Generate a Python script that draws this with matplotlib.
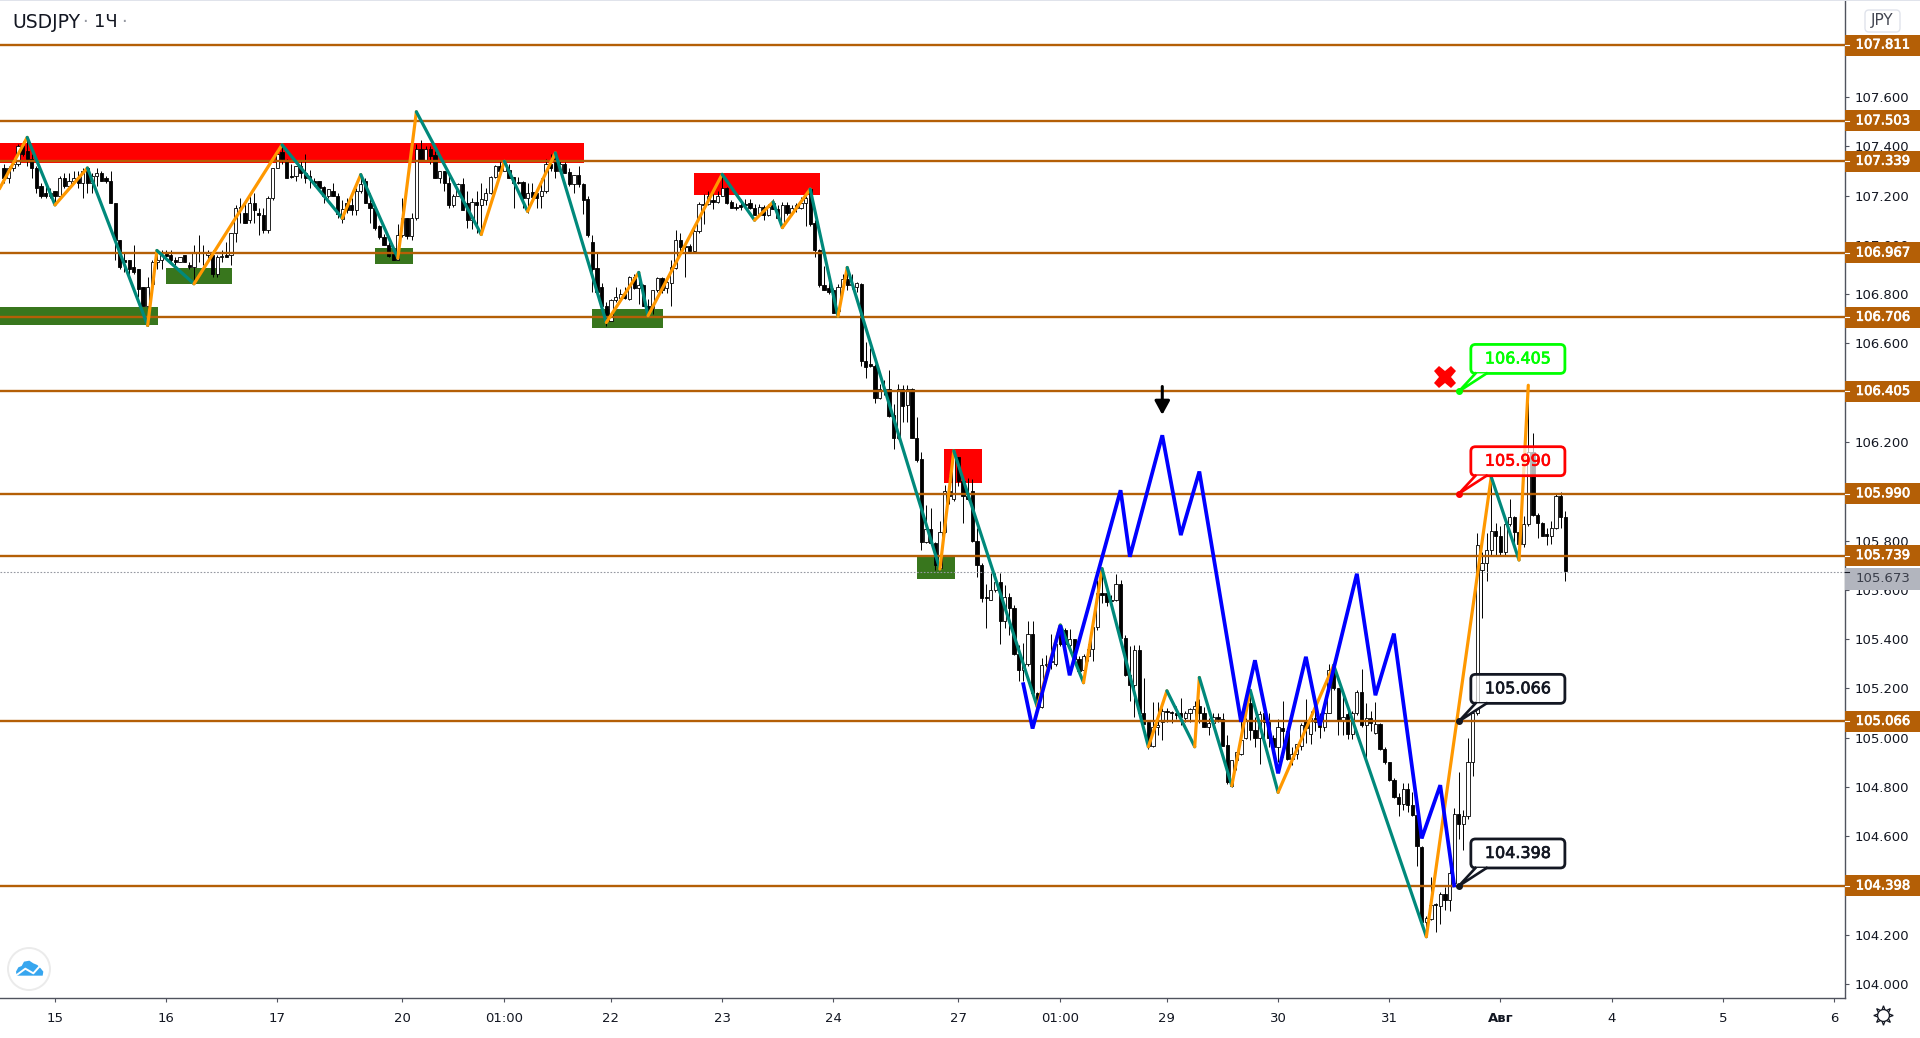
import numpy as np
import matplotlib
matplotlib.use("Agg")
import matplotlib.pyplot as plt
import matplotlib.patheffects as pe
from matplotlib.lines import Line2D
from matplotlib.patches import Circle, FancyBboxPatch, Polygon, Rectangle
from matplotlib.transforms import IdentityTransform

# hourly bars, index 0 = Jul 15 00:00 on the chart
first_bar = -11
opens = [
    107.31, 107.27, 107.31, 107.33, 107.40, 107.38, 107.35, 107.31, 107.24, 107.21,
    107.20, 107.22, 107.20, 107.27, 107.24, 107.26, 107.27, 107.25, 107.31, 107.25,
    107.28, 107.29, 107.27, 107.26, 107.17, 107.02, 106.94, 106.94, 106.91, 106.90,
    106.83, 106.75, 106.84, 106.93, 106.94, 106.965, 106.96, 106.94, 106.93, 106.96,
    106.92, 106.91, 106.97, 106.97, 106.96, 106.96, 106.88, 106.95, 106.96, 106.96,
    107.05, 107.155, 107.13, 107.10, 107.17, 107.13, 107.12, 107.06, 107.19, 107.31,
    107.375, 107.34, 107.28, 107.28, 107.32, 107.29, 107.28, 107.26, 107.26, 107.235,
    107.20, 107.22, 107.20, 107.105, 107.17, 107.16, 107.14, 107.22, 107.26, 107.17,
    107.15, 107.075, 107.03, 107.00, 106.965, 106.94, 107.04, 107.11, 107.035, 107.11,
    107.39, 107.345, 107.39, 107.365, 107.27, 107.30, 107.25, 107.16, 107.20, 107.245,
    107.17, 107.10, 107.175, 107.16, 107.18, 107.21, 107.275, 107.32, 107.30, 107.305,
    107.275, 107.255, 107.255, 107.19, 107.215, 107.21, 107.20, 107.22, 107.33, 107.35,
    107.30, 107.33, 107.295, 107.245, 107.285, 107.245, 107.185, 107.01, 106.905, 106.83,
    106.75, 106.69, 106.775, 106.785, 106.80, 106.78, 106.87, 106.825, 106.835, 106.75,
    106.745, 106.815, 106.865, 106.825, 106.845, 106.905, 107.02, 106.995, 106.995, 106.975,
    107.055, 107.165, 107.165, 107.18, 107.175, 107.20, 107.23, 107.175, 107.155, 107.16,
    107.165, 107.17, 107.15, 107.12, 107.155, 107.12, 107.17, 107.145, 107.075, 107.16,
    107.13, 107.15, 107.15, 107.17, 107.225, 107.09, 106.98, 106.835, 106.825, 106.815,
    106.73, 106.83, 106.86, 106.835, 106.83, 106.84, 106.53, 106.515, 106.51, 106.38,
    106.415, 106.415, 106.31, 106.215, 106.415, 106.35, 106.415, 106.215, 106.13, 105.795,
    105.845, 105.79, 105.69, 105.835, 106.00, 105.97, 106.14, 106.04, 105.98, 106.00,
    105.80, 105.70, 105.57, 105.56, 105.60, 105.63, 105.475, 105.57, 105.525, 105.34,
    105.275, 105.30, 105.42, 105.18, 105.125, 105.295, 105.305, 105.30, 105.44, 105.435,
    105.375, 105.40, 105.32, 105.275, 105.33, 105.36, 105.45, 105.585, 105.585, 105.56,
    105.56, 105.625, 105.405, 105.255, 105.215, 105.355, 105.10, 105.065, 104.965, 105.045,
    105.065, 105.11, 105.105, 105.10, 105.10, 105.08, 105.10, 105.115, 105.13, 105.10,
    105.045, 105.06, 105.085, 105.075, 104.97, 104.805, 104.91, 104.935, 105.00, 105.14,
    105.03, 105.00, 105.10, 105.065, 105.00, 104.96, 105.04, 105.025, 104.915, 104.935,
    104.965, 105.07, 105.015, 105.08, 105.065, 105.045, 105.10, 105.285, 105.20, 105.07,
    105.095, 105.015, 105.10, 105.185, 105.05, 105.08, 105.02, 105.055, 104.955, 104.90,
    104.83, 104.76, 104.73, 104.79, 104.725, 104.685, 104.555, 104.25, 104.265, 104.325,
    104.315, 104.365, 104.34, 104.41, 104.69, 104.65, 104.68, 104.90, 105.10, 105.68,
    105.71, 105.76, 105.84, 105.82, 105.755, 105.865, 105.895, 105.835, 105.785, 105.865,
    106.16, 105.905, 105.87, 105.825, 105.82, 105.85, 105.98, 105.895,
]
highs = [
    107.33, 107.32, 107.35, 107.41, 107.42, 107.43, 107.37, 107.32, 107.25, 107.25,
    107.23, 107.22, 107.28, 107.29, 107.29, 107.30, 107.30, 107.31, 107.31, 107.29,
    107.31, 107.30, 107.28, 107.30, 107.17, 107.02, 106.97, 106.94, 107.00, 106.90,
    106.83, 106.87, 106.94, 106.98, 106.98, 106.98, 106.98, 106.95, 106.95, 106.96,
    106.93, 107.00, 107.04, 107.00, 106.98, 106.98, 106.96, 106.98, 107.01, 107.05,
    107.16, 107.19, 107.17, 107.20, 107.21, 107.15, 107.15, 107.20, 107.31, 107.39,
    107.40, 107.35, 107.33, 107.32, 107.34, 107.37, 107.305, 107.27, 107.26, 107.24,
    107.225, 107.25, 107.21, 107.18, 107.19, 107.19, 107.23, 107.29, 107.27, 107.21,
    107.16, 107.08, 107.045, 107.01, 106.965, 107.085, 107.19, 107.11, 107.13, 107.41,
    107.425, 107.40, 107.40, 107.38, 107.30, 107.30, 107.28, 107.205, 107.25, 107.27,
    107.22, 107.19, 107.22, 107.25, 107.23, 107.28, 107.325, 107.34, 107.34, 107.33,
    107.275, 107.275, 107.26, 107.25, 107.25, 107.225, 107.27, 107.35, 107.37, 107.37,
    107.34, 107.335, 107.31, 107.285, 107.32, 107.25, 107.20, 107.04, 106.965, 106.845,
    106.77, 106.78, 106.83, 106.82, 106.83, 106.875, 106.88, 106.89, 106.84, 106.78,
    106.815, 106.87, 106.87, 106.87, 106.94, 107.06, 107.05, 106.995, 107.005, 107.065,
    107.175, 107.205, 107.22, 107.22, 107.22, 107.28, 107.235, 107.18, 107.17, 107.185,
    107.185, 107.185, 107.165, 107.165, 107.16, 107.165, 107.185, 107.16, 107.175, 107.175,
    107.16, 107.17, 107.195, 107.20, 107.23, 107.10, 106.985, 106.915, 106.885, 106.825,
    106.84, 106.88, 106.91, 106.88, 106.85, 106.845, 106.605, 106.58, 106.515, 106.435,
    106.45, 106.49, 106.355, 106.435, 106.43, 106.43, 106.42, 106.30, 106.16, 105.945,
    105.93, 105.795, 105.88, 106.025, 106.06, 106.17, 106.14, 106.05, 106.055, 106.05,
    105.85, 105.71, 105.625, 105.67, 105.67, 105.67, 105.62, 105.585, 105.54, 105.375,
    105.385, 105.475, 105.475, 105.185, 105.325, 105.335, 105.42, 105.41, 105.46, 105.445,
    105.44, 105.40, 105.33, 105.34, 105.38, 105.46, 105.64, 105.665, 105.605, 105.58,
    105.665, 105.64, 105.415, 105.37, 105.375, 105.375, 105.24, 105.07, 105.145, 105.145,
    105.12, 105.12, 105.11, 105.13, 105.16, 105.11, 105.12, 105.15, 105.155, 105.125,
    105.08, 105.10, 105.10, 105.10, 105.01, 104.91, 104.94, 105.08, 105.08, 105.185,
    105.085, 105.11, 105.145, 105.10, 105.01, 105.075, 105.15, 105.03, 104.96, 104.975,
    105.06, 105.155, 105.11, 105.14, 105.10, 105.11, 105.30, 105.30, 105.20, 105.19,
    105.11, 105.11, 105.195, 105.28, 105.14, 105.11, 105.145, 105.06, 104.96, 104.90,
    104.835, 104.775, 104.815, 104.815, 104.78, 104.695, 104.56, 104.275, 104.435, 104.33,
    104.375, 104.395, 104.48, 104.715, 104.86, 104.705, 105.00, 105.13, 105.83, 105.755,
    105.83, 106.05, 105.87, 105.86, 105.87, 105.97, 105.90, 105.84, 105.90, 106.43,
    106.235, 105.91, 105.875, 105.85, 105.88, 105.99, 105.995, 105.92,
]
lows = [
    107.25, 107.25, 107.30, 107.32, 107.36, 107.32, 107.27, 107.21, 107.19, 107.19,
    107.19, 107.16, 107.20, 107.23, 107.23, 107.25, 107.23, 107.19, 107.21, 107.21,
    107.24, 107.26, 107.25, 107.17, 106.94, 106.90, 106.89, 106.87, 106.88, 106.79,
    106.75, 106.67, 106.82, 106.90, 106.90, 106.95, 106.93, 106.92, 106.93, 106.93,
    106.90, 106.84, 106.93, 106.92, 106.94, 106.87, 106.87, 106.93, 106.95, 106.92,
    107.01, 107.09, 107.09, 107.09, 107.09, 107.04, 107.05, 107.05, 107.18, 107.31,
    107.33, 107.27, 107.27, 107.26, 107.27, 107.25, 107.23, 107.24, 107.23, 107.17,
    107.19, 107.20, 107.11, 107.09, 107.13, 107.12, 107.12, 107.21, 107.17, 107.09,
    107.06, 107.025, 107.00, 106.95, 106.94, 106.94, 107.03, 107.025, 107.02, 107.10,
    107.345, 107.34, 107.33, 107.27, 107.25, 107.22, 107.15, 107.155, 107.20, 107.14,
    107.07, 107.065, 107.05, 107.045, 107.16, 107.205, 107.27, 107.28, 107.30, 107.27,
    107.15, 107.245, 107.15, 107.13, 107.185, 107.15, 107.15, 107.21, 107.30, 107.27,
    107.29, 107.29, 107.24, 107.21, 107.235, 107.125, 107.03, 106.81, 106.80, 106.75,
    106.67, 106.69, 106.77, 106.77, 106.78, 106.775, 106.82, 106.76, 106.75, 106.71,
    106.72, 106.81, 106.805, 106.805, 106.75, 106.90, 106.96, 106.87, 106.965, 106.97,
    107.05, 107.085, 107.16, 107.145, 107.17, 107.20, 107.165, 107.15, 107.14, 107.14,
    107.15, 107.145, 107.12, 107.115, 107.10, 107.115, 107.145, 107.11, 107.07, 107.12,
    107.12, 107.135, 107.145, 107.075, 107.075, 106.95, 106.83, 106.815, 106.80, 106.725,
    106.72, 106.82, 106.815, 106.82, 106.81, 106.51, 106.46, 106.505, 106.36, 106.375,
    106.39, 106.30, 106.17, 106.21, 106.28, 106.28, 106.215, 106.12, 105.76, 105.79,
    105.78, 105.68, 105.68, 105.83, 105.95, 105.96, 106.02, 105.87, 105.965, 105.795,
    105.65, 105.55, 105.445, 105.56, 105.59, 105.38, 105.445, 105.415, 105.335, 105.23,
    105.23, 105.29, 105.165, 105.12, 105.12, 105.285, 105.28, 105.29, 105.37, 105.37,
    105.36, 105.31, 105.27, 105.27, 105.31, 105.31, 105.435, 105.545, 105.535, 105.54,
    105.555, 105.405, 105.25, 105.15, 105.085, 105.09, 105.055, 104.955, 104.96, 105.01,
    104.99, 105.065, 105.06, 105.075, 105.05, 105.065, 105.065, 105.07, 105.06, 105.045,
    105.01, 105.045, 105.065, 104.965, 104.81, 104.80, 104.87, 104.93, 104.995, 104.99,
    104.96, 104.895, 104.995, 104.96, 104.93, 104.90, 104.92, 104.91, 104.89, 104.915,
    104.95, 104.98, 104.975, 105.025, 105.00, 105.025, 105.10, 105.195, 105.01, 105.01,
    104.995, 104.995, 105.09, 105.045, 104.915, 105.025, 105.015, 104.95, 104.895, 104.825,
    104.755, 104.68, 104.705, 104.70, 104.68, 104.48, 104.245, 104.195, 104.26, 104.21,
    104.245, 104.30, 104.295, 104.40, 104.59, 104.545, 104.67, 104.845, 105.09, 105.485,
    105.635, 105.74, 105.74, 105.74, 105.74, 105.86, 105.785, 105.77, 105.775, 105.86,
    105.90, 105.81, 105.82, 105.78, 105.785, 105.845, 105.85, 105.635,
]
closes = [
    107.27, 107.31, 107.33, 107.40, 107.37, 107.35, 107.31, 107.23, 107.20, 107.20,
    107.21, 107.20, 107.27, 107.24, 107.26, 107.27, 107.25, 107.30, 107.25, 107.28,
    107.29, 107.26, 107.26, 107.17, 107.02, 106.91, 106.93, 106.90, 106.89, 106.82,
    106.75, 106.83, 106.93, 106.94, 106.96, 106.955, 106.94, 106.93, 106.95, 106.93,
    106.91, 106.97, 106.965, 106.965, 106.97, 106.88, 106.95, 106.955, 106.95, 107.05,
    107.15, 107.15, 107.09, 107.17, 107.14, 107.12, 107.06, 107.19, 107.31, 107.37,
    107.35, 107.27, 107.275, 107.32, 107.29, 107.27, 107.27, 107.25, 107.23, 107.20,
    107.225, 107.20, 107.125, 107.145, 107.14, 107.14, 107.22, 107.245, 107.17, 107.15,
    107.07, 107.03, 107.00, 106.955, 106.94, 107.04, 107.11, 107.035, 107.11, 107.39,
    107.345, 107.39, 107.36, 107.27, 107.30, 107.25, 107.16, 107.20, 107.245, 107.14,
    107.10, 107.175, 107.16, 107.185, 107.21, 107.275, 107.32, 107.30, 107.33, 107.27,
    107.25, 107.25, 107.19, 107.21, 107.195, 107.19, 107.22, 107.33, 107.31, 107.30,
    107.33, 107.29, 107.245, 107.285, 107.245, 107.18, 107.04, 106.90, 106.81, 106.75,
    106.70, 106.775, 106.79, 106.80, 106.785, 106.87, 106.825, 106.835, 106.75, 106.74,
    106.815, 106.865, 106.815, 106.85, 106.91, 107.02, 106.99, 106.99, 106.975, 107.055,
    107.165, 107.16, 107.20, 107.175, 107.20, 107.23, 107.17, 107.15, 107.15, 107.155,
    107.16, 107.15, 107.12, 107.155, 107.12, 107.155, 107.145, 107.11, 107.16, 107.13,
    107.15, 107.16, 107.17, 107.19, 107.085, 106.98, 106.835, 106.815, 106.81, 106.725,
    106.83, 106.86, 106.835, 106.84, 106.845, 106.53, 106.505, 106.51, 106.38, 106.415,
    106.41, 106.305, 106.215, 106.415, 106.345, 106.415, 106.215, 106.125, 105.795, 105.845,
    105.79, 105.70, 105.835, 106.00, 105.98, 106.16, 106.04, 105.98, 105.97, 105.80,
    105.70, 105.565, 105.565, 105.60, 105.63, 105.475, 105.57, 105.525, 105.34, 105.275,
    105.30, 105.42, 105.18, 105.125, 105.295, 105.30, 105.31, 105.38, 105.38, 105.38,
    105.40, 105.32, 105.27, 105.33, 105.36, 105.45, 105.585, 105.58, 105.55, 105.555,
    105.625, 105.405, 105.255, 105.215, 105.355, 105.10, 105.055, 104.965, 105.045, 105.05,
    105.11, 105.105, 105.10, 105.09, 105.085, 105.10, 105.115, 105.13, 105.10, 105.045,
    105.06, 105.085, 105.075, 104.967, 104.82, 104.91, 104.94, 104.99, 105.07, 105.03,
    105.00, 105.095, 105.065, 105.00, 104.96, 105.045, 105.025, 104.915, 104.935, 104.975,
    105.05, 105.04, 105.08, 105.065, 105.045, 105.10, 105.275, 105.20, 105.07, 105.085,
    105.015, 105.10, 105.185, 105.05, 105.08, 105.06, 105.055, 104.955, 104.90, 104.83,
    104.76, 104.73, 104.79, 104.725, 104.685, 104.56, 104.25, 104.27, 104.32, 104.32,
    104.365, 104.34, 104.45, 104.69, 104.65, 104.68, 104.90, 105.10, 105.78, 105.71,
    105.76, 105.84, 105.82, 105.755, 105.865, 105.895, 105.835, 105.785, 105.865, 106.16,
    105.905, 105.87, 105.82, 105.82, 105.85, 105.98, 105.895, 105.675,
]

level_prices = [107.811, 107.503, 107.339, 106.967, 106.706, 106.405, 105.990, 105.739, 105.066, 104.398]
last_price = 105.673

# swing line: goes orange on the way up, teal on the way down
swing_bars = [-12, -6, 0, 7, 20, 22, 30, 49, 62, 66, 74, 78, 92, 97, 102, 108, 119, 126, 128, 144,
              151, 155, 157, 163, 169, 171, 191, 194, 212, 217, 222, 226, 236, 240, 246, 247,
              254, 258, 264, 276, 296, 310, 316, 318]
swing_prices = [107.227, 107.436, 107.162, 107.312, 106.673, 106.977, 106.842, 107.406, 107.108, 107.285,
                106.946, 107.54, 107.042, 107.339, 107.136, 107.373, 106.685, 106.888, 106.712, 107.286,
                107.10, 107.174, 107.07, 107.226, 106.71, 106.908, 105.684, 106.164, 105.126, 105.457,
                105.223, 105.686, 104.963, 105.19, 104.963, 105.244, 104.805, 105.192, 104.778, 105.294,
                104.192, 106.058, 105.721, 106.43]

forecast_bars = [209, 211, 217, 219, 230, 232, 239, 243, 247, 256, 259, 264, 270, 273, 281, 285, 289, 295, 299, 302]
forecast_prices = [105.217, 105.037, 105.456, 105.253, 106.004, 105.734, 106.227, 105.822, 106.08, 105.064,
                   105.314, 104.855, 105.328, 105.05, 105.665, 105.172, 105.422, 104.591, 104.807, 104.40]

red_left = [-12, 138, 191.9]
red_right = [114.2, 165.1, 200]
red_top = [107.413, 107.29, 106.173]
red_bottom = [107.334, 107.203, 106.034]
green_left = [-12, 24, 69, 115.9, 186]
green_right = [22.2, 38.2, 77.3, 131.2, 194.3]
green_top = [106.748, 106.905, 106.988, 106.74, 105.736]
green_bottom = [106.673, 106.843, 106.923, 106.661, 105.643]

callout_prices = [106.405, 105.990, 105.066, 104.398]
callout_colors = ["#00ff00", "#ff0000", "#131722", "#131722"]
callout_bar = 303

x_ticks = [0, 24, 48, 75, 97, 120, 144, 168, 195, 217, 240, 264, 288, 312, 336, 360, 384]
x_labels = ["15", "16", "17", "20", "01:00", "22", "23", "24", "27", "01:00", "29", "30", "31", "Авг", "4", "5", "6"]
y_ticks = [104.0, 104.2, 104.4, 104.6, 104.8, 105.0, 105.2, 105.4, 105.6, 105.8,
           106.0, 106.2, 106.4, 106.6, 106.8, 107.0, 107.2, 107.4, 107.6, 107.8]

BROWN = "#b45f06"
AXIS_COLOR = "#50535e"
TEXT_COLOR = "#131722"
PX_PER_BAR = 4.633
PX_PER_YEN = 246.4
W, H = 1920, 1038


def px(x, y):
    # picture coordinates (origin top left) to display coordinates
    return x, H - y


def draw_candles(ax):
    bars = np.arange(first_bar, first_bar + len(closes))
    o = np.array(opens)
    c = np.array(closes)
    ax.vlines(bars, lows, highs, color="black", lw=0.7, zorder=1.5)
    colors = ["white" if cl >= op else "black" for op, cl in zip(o, c)]
    ax.bar(bars, np.abs(c - o), bottom=np.minimum(o, c), width=0.7, color=colors,
           edgecolor="black", linewidth=0.6, zorder=1.6)


def draw_zones(ax):
    for l, r, t, b in zip(red_left, red_right, red_top, red_bottom):
        ax.add_patch(Rectangle((l, b), r - l, t - b, fc="#ff0000", ec="none", zorder=1))
    for l, r, t, b in zip(green_left, green_right, green_top, green_bottom):
        ax.add_patch(Rectangle((l, b), r - l, t - b, fc="#38761d", ec="none", zorder=1))


def draw_swings(ax):
    for i in range(len(swing_bars) - 1):
        up = swing_prices[i + 1] > swing_prices[i]
        ax.plot(swing_bars[i:i + 2], swing_prices[i:i + 2], color="#ff9800" if up else "#00897b",
                lw=2.3, solid_capstyle="round", zorder=3)
    ax.plot(forecast_bars, forecast_prices, color="#0000ff", lw=2.7, solid_joinstyle="miter", zorder=3.5)


def draw_callout(ax, price, color):
    aspect = (1 / PX_PER_YEN) * PX_PER_BAR
    left = callout_bar + 2.6
    bottom = price + 18 / PX_PER_YEN
    width = 20.3
    height = 29 / PX_PER_YEN
    ax.add_patch(FancyBboxPatch((left, bottom), width, height, boxstyle="round,pad=0,rounding_size=1",
                                mutation_aspect=aspect, fc=(1, 1, 1, 0.7), ec=color, lw=2.0, zorder=4))
    tip_x = [callout_bar, left + 1.0, left + 3.4]
    tip_y = [price, bottom, bottom]
    ax.add_patch(Polygon(list(zip(tip_x, tip_y)), fc="white", ec="none", zorder=4.1))
    ax.plot([tip_x[1], tip_x[0], tip_x[2]], [tip_y[1], tip_y[0], tip_y[2]], color=color, lw=1.9, zorder=4.2)
    ax.plot([callout_bar], [price], "o", color=color, ms=4, zorder=4.3)
    ax.text(left + width / 2, bottom + height / 2, f"{price:.3f}", color=color, fontsize=11.5,
            ha="center", va="center", zorder=4.4,
            path_effects=[pe.withStroke(linewidth=0.5, foreground=color)])


def draw_price_labels(ax):
    tr = ax.get_yaxis_transform()
    extra = (W - 1845) / 1845
    h = 21 / PX_PER_YEN
    for p in level_prices:
        ax.add_patch(Rectangle((1, p - h / 2), extra, h, transform=tr, fc=BROWN, ec="none", clip_on=False, zorder=5))
        ax.plot([1, 1 + 4 / 1845], [p, p], transform=tr, color="white", lw=0.8, clip_on=False, zorder=5.1)
        ax.text(1 + 38 / 1845, p, f"{p:.3f}", transform=tr, color="white", fontsize=9.5,
                ha="center", va="center", clip_on=False, zorder=5.2,
                path_effects=[pe.withStroke(linewidth=0.5, foreground="white")])
    label_center = last_price - 7 / PX_PER_YEN
    ax.add_patch(Rectangle((1, label_center - 11 / PX_PER_YEN), extra, 22 / PX_PER_YEN, transform=tr,
                           fc="#b2b5be", ec="none", clip_on=False, zorder=5))
    ax.plot([1, 1 + 4 / 1845], [last_price, last_price], transform=tr, color=TEXT_COLOR, lw=0.8,
            clip_on=False, zorder=5.1)
    ax.text(1 + 38 / 1845, label_center, f"{last_price:.3f}", transform=tr, color="#3a3e4a", fontsize=9.5,
            ha="center", va="center", clip_on=False, zorder=5.2)


def draw_decorations(fig):
    tr = IdentityTransform()
    # top border and the JPY button
    fig.add_artist(Rectangle(px(0, 1), W, 1, transform=tr, fc="#e0e3eb", ec="none"))
    x0, y0 = px(1865, 32)
    fig.add_artist(FancyBboxPatch((x0, y0), 35, 22, boxstyle="round,pad=0,rounding_size=4", transform=tr,
                                  fc="white", ec="#e0e3eb", lw=1.0))
    fig.text(1882.5 / W, 1 - 21 / H, "JPY", color="#434651", fontsize=11, ha="center", va="center")
    fig.text(12 / W, 1 - 22 / H, "USDJPY", color=TEXT_COLOR, fontsize=13.5, ha="left", va="center")
    fig.text(85 / W, 1 - 22 / H, "·", color="#9598a1", fontsize=13, ha="center", va="center")
    fig.text(94 / W, 1 - 22 / H, "1Ч", color=TEXT_COLOR, fontsize=13, ha="left", va="center")
    fig.text(124 / W, 1 - 22 / H, "·", color="#9598a1", fontsize=13, ha="center", va="center")

    # settings gear
    gx, gy = px(1883, 1015)
    fig.add_artist(Line2D([gx], [gy], transform=tr, marker=(8, 1, 0), ms=14, mfc="white", mec=TEXT_COLOR, mew=0.9))
    fig.add_artist(Line2D([gx], [gy], transform=tr, marker="o", ms=8.5, mfc="white", mec=TEXT_COLOR, mew=0.9))

    # logo button
    fig.add_artist(Circle(px(29, 969), 21, transform=tr, fc="white", ec="#ebebeb", lw=1.4))
    cloud = [(48, 95), (55, 82), (65, 78), (72, 65), (88, 62), (100, 70), (112, 75), (122, 85),
             (130, 95), (128, 107), (50, 107)]
    fig.add_artist(Polygon([px(a / 3, 940 + b / 3) for a, b in cloud], transform=tr, fc="#37a6ef", ec="none"))
    stroke = [px(a / 3, 940 + b / 3) for a, b in [(50, 105), (76, 86), (100, 100), (125, 72)]]
    fig.add_artist(Line2D([p[0] for p in stroke], [p[1] for p in stroke], transform=tr, color="white", lw=1.4))


def main():
    fig = plt.figure(figsize=(W / 100, H / 100), dpi=100, facecolor="white")
    ax = fig.add_axes([0, (H - 998) / H, 1845 / W, 998 / H])
    ax.set_xlim(-55 / PX_PER_BAR, (1845 - 55) / PX_PER_BAR)
    ax.set_ylim(107.811 - (998 - 45) / PX_PER_YEN, 107.811 + 45 / PX_PER_YEN)

    draw_zones(ax)
    draw_candles(ax)
    ax.hlines(level_prices, *ax.get_xlim(), color=BROWN, lw=1.7, zorder=2)
    ax.axhline(last_price, color="#9598a1", lw=0.8, ls=(0, (1.5, 1.5)), zorder=2)
    draw_swings(ax)
    for p, col in zip(callout_prices, callout_colors):
        draw_callout(ax, p, col)
    ax.annotate("", xy=(239, 106.31), xytext=(239, 106.425),
                arrowprops=dict(arrowstyle="-|>,head_length=0.55,head_width=0.3", color="black", lw=2.2,
                                mutation_scale=15, shrinkA=0, shrinkB=0),
                zorder=4)
    ax.plot([300], [106.464], marker="X", color="#ff0000", ms=16, mew=0, zorder=4)

    for side in ["top", "left"]:
        ax.spines[side].set_visible(False)
    for side in ["right", "bottom"]:
        ax.spines[side].set_color(AXIS_COLOR)
        ax.spines[side].set_linewidth(1.0)
    ax.yaxis.tick_right()
    ax.set_yticks(y_ticks)
    ax.set_yticklabels([f"{v:.3f}" for v in y_ticks])
    ax.set_xticks(x_ticks)
    ax.set_xticklabels(x_labels)
    ax.get_xticklabels()[13].set_fontweight("bold")
    ax.tick_params(axis="both", colors=AXIS_COLOR, labelcolor=TEXT_COLOR, labelsize=9.5, length=3, width=0.8, pad=4)
    ax.tick_params(axis="x", pad=7)

    draw_price_labels(ax)
    draw_decorations(fig)
    fig.savefig("out.png", dpi=100, facecolor="white")


if __name__ == "__main__":
    main()
